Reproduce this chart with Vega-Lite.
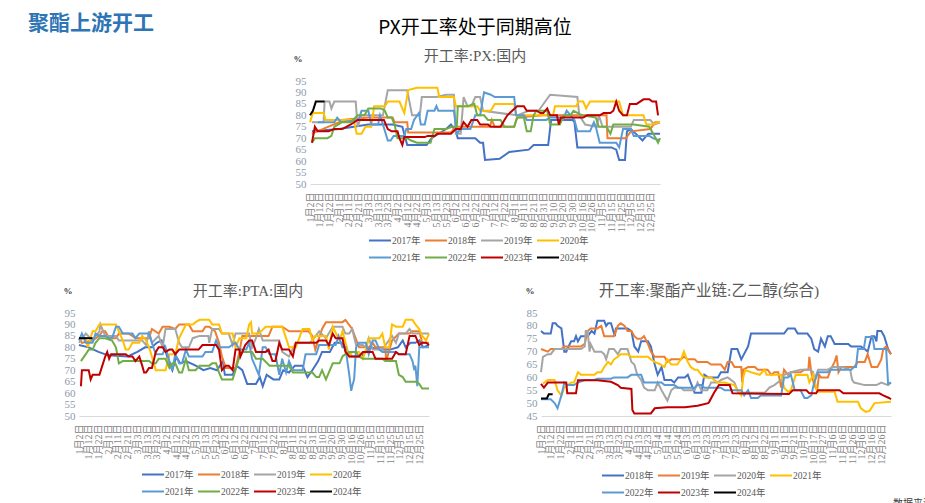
{
"$schema": "https://vega.github.io/schema/vega-lite/v6.json",
"padding": {"left": 28, "top": 13, "right": 5, "bottom": 0},
"title": {"text": "聚酯上游开工", "anchor": "start", "font": "Noto Sans CJK SC", "fontSize": 21, "fontWeight": "bold", "color": "#2E75B6", "offset": -15, "dx": -35, "frame": "bounds"},
"resolve": {"scale": {"color": "independent", "x": "independent", "y": "independent"}, "legend": {"color": "independent"}},
"config": {
  "font": "Liberation Serif, Noto Sans CJK SC",
  "view": {"stroke": null},
  "axis": {"grid": false, "ticks": false, "labelFont": "Liberation Serif, Noto Sans CJK SC"},
  "axisY": {"domain": false, "labelColor": "#8E9AAB", "labelFontSize": 11, "labelPadding": 4, "titleAngle": 0, "titleAlign": "left", "titleBaseline": "alphabetic", "titleFontSize": 9, "titleFontWeight": "bold", "titleColor": "#404040", "titleX": -17, "titleY": -20},
  "axisX": {"domainColor": "#D9D9D9", "labelAngle": -90, "labelColor": "#7F7F7F", "labelFontSize": 10, "labelPadding": 8, "labelOverlap": false, "labelBound": false},
  "legend": {"symbolType": "M-3,0H1", "symbolStrokeWidth": 2.5, "symbolSize": 121, "labelFontSize": 9.5, "labelColor": "#595959", "labelFont": "Liberation Serif, Noto Sans CJK SC", "columnPadding": 0, "rowPadding": 6, "labelOffset": 0, "columns": 4, "direction": "horizontal", "orient": "none", "title": null},
  "line": {"strokeWidth": 2}
},
"datasets": {
"px": [
{"s":"2017年","i":2,"v":73},{"s":"2017年","i":30,"v":74},{"s":"2017年","i":60,"v":76},{"s":"2017年","i":85,"v":76},{"s":"2017年","i":95,"v":75},{"s":"2017年","i":100,"v":67},{"s":"2017年","i":120,"v":67},{"s":"2017年","i":125,"v":70},{"s":"2017年","i":140,"v":74},{"s":"2017年","i":145,"v":76},{"s":"2017年","i":150,"v":73},{"s":"2017年","i":152,"v":70},{"s":"2017年","i":170,"v":70},{"s":"2017年","i":175,"v":68},{"s":"2017年","i":178,"v":68},{"s":"2017年","i":180,"v":60.5},{"s":"2017年","i":195,"v":61},{"s":"2017年","i":205,"v":64},{"s":"2017年","i":225,"v":65},{"s":"2017年","i":230,"v":67},{"s":"2017年","i":245,"v":67},{"s":"2017年","i":248,"v":78},{"s":"2017年","i":270,"v":78},{"s":"2017年","i":272,"v":77},{"s":"2017年","i":275,"v":66},{"s":"2017年","i":310,"v":66},{"s":"2017年","i":315,"v":65},{"s":"2017年","i":318,"v":60.5},{"s":"2017年","i":324,"v":60.5},{"s":"2017年","i":326,"v":73},{"s":"2017年","i":330,"v":74},{"s":"2017年","i":335,"v":72},{"s":"2017年","i":342,"v":69},{"s":"2017年","i":348,"v":72},{"s":"2017年","i":360,"v":72},
{"s":"2018年","i":2,"v":72},{"s":"2018年","i":30,"v":77},{"s":"2018年","i":33,"v":78},{"s":"2018年","i":60,"v":79},{"s":"2018年","i":85,"v":79},{"s":"2018年","i":87,"v":77},{"s":"2018年","i":100,"v":77},{"s":"2018年","i":101,"v":72.5},{"s":"2018年","i":145,"v":72.5},{"s":"2018年","i":150,"v":75},{"s":"2018年","i":185,"v":75},{"s":"2018年","i":187,"v":78},{"s":"2018年","i":190,"v":75},{"s":"2018年","i":210,"v":75},{"s":"2018年","i":213,"v":79},{"s":"2018年","i":240,"v":80},{"s":"2018年","i":305,"v":80},{"s":"2018年","i":306,"v":70},{"s":"2018年","i":325,"v":70},{"s":"2018年","i":330,"v":73},{"s":"2018年","i":350,"v":74},{"s":"2018年","i":355,"v":77},{"s":"2018年","i":360,"v":77},
{"s":"2019年","i":2,"v":77},{"s":"2019年","i":14,"v":77},{"s":"2019年","i":15,"v":86},{"s":"2019年","i":20,"v":86},{"s":"2019年","i":22,"v":83},{"s":"2019年","i":25,"v":86},{"s":"2019年","i":47,"v":86},{"s":"2019年","i":49,"v":75},{"s":"2019年","i":53,"v":80},{"s":"2019年","i":75,"v":80},{"s":"2019年","i":80,"v":91},{"s":"2019年","i":100,"v":91},{"s":"2019年","i":105,"v":80},{"s":"2019年","i":113,"v":80},{"s":"2019年","i":115,"v":88},{"s":"2019年","i":130,"v":88},{"s":"2019年","i":140,"v":89},{"s":"2019年","i":148,"v":89},{"s":"2019年","i":150,"v":72},{"s":"2019年","i":155,"v":72},{"s":"2019年","i":158,"v":88},{"s":"2019年","i":162,"v":84},{"s":"2019年","i":166,"v":84},{"s":"2019年","i":170,"v":88},{"s":"2019年","i":175,"v":88},{"s":"2019年","i":178,"v":82},{"s":"2019年","i":213,"v":80},{"s":"2019年","i":225,"v":82},{"s":"2019年","i":235,"v":82},{"s":"2019年","i":247,"v":89},{"s":"2019年","i":275,"v":88},{"s":"2019年","i":277,"v":80},{"s":"2019年","i":283,"v":76},{"s":"2019年","i":295,"v":75},{"s":"2019年","i":297,"v":80},{"s":"2019年","i":301,"v":75},{"s":"2019年","i":330,"v":75},{"s":"2019年","i":333,"v":78},{"s":"2019年","i":350,"v":78},{"s":"2019年","i":354,"v":76},{"s":"2019年","i":360,"v":77},
{"s":"2020年","i":0,"v":77},{"s":"2020年","i":3,"v":81},{"s":"2020年","i":14,"v":81},{"s":"2020年","i":16,"v":78},{"s":"2020年","i":45,"v":78},{"s":"2020年","i":48,"v":72},{"s":"2020年","i":53,"v":72},{"s":"2020年","i":57,"v":75},{"s":"2020年","i":63,"v":75},{"s":"2020年","i":66,"v":84},{"s":"2020年","i":77,"v":84},{"s":"2020年","i":80,"v":86},{"s":"2020年","i":92,"v":86},{"s":"2020年","i":97,"v":81},{"s":"2020年","i":101,"v":91},{"s":"2020年","i":110,"v":92},{"s":"2020年","i":131,"v":92},{"s":"2020年","i":133,"v":88},{"s":"2020年","i":148,"v":88},{"s":"2020年","i":150,"v":84},{"s":"2020年","i":172,"v":84},{"s":"2020年","i":175,"v":82},{"s":"2020年","i":186,"v":82},{"s":"2020年","i":190,"v":85},{"s":"2020年","i":210,"v":85},{"s":"2020年","i":212,"v":80},{"s":"2020年","i":250,"v":80},{"s":"2020年","i":252,"v":84},{"s":"2020年","i":274,"v":84},{"s":"2020年","i":276,"v":86},{"s":"2020年","i":281,"v":86},{"s":"2020年","i":284,"v":83},{"s":"2020年","i":288,"v":86},{"s":"2020年","i":318,"v":86},{"s":"2020年","i":322,"v":80},{"s":"2020年","i":343,"v":80},{"s":"2020年","i":346,"v":76},{"s":"2020年","i":352,"v":76},{"s":"2020年","i":358,"v":77},{"s":"2020年","i":360,"v":77},
{"s":"2021年","i":8,"v":77},{"s":"2021年","i":25,"v":77},{"s":"2021年","i":28,"v":79},{"s":"2021年","i":32,"v":77},{"s":"2021年","i":50,"v":78},{"s":"2021年","i":53,"v":82},{"s":"2021年","i":60,"v":82},{"s":"2021年","i":63,"v":76},{"s":"2021年","i":70,"v":76},{"s":"2021年","i":72,"v":80},{"s":"2021年","i":75,"v":76},{"s":"2021年","i":80,"v":69},{"s":"2021年","i":83,"v":69},{"s":"2021年","i":86,"v":71},{"s":"2021年","i":97,"v":71},{"s":"2021年","i":99,"v":74},{"s":"2021年","i":104,"v":74},{"s":"2021年","i":107,"v":78},{"s":"2021年","i":112,"v":81},{"s":"2021年","i":114,"v":76},{"s":"2021年","i":118,"v":76},{"s":"2021年","i":121,"v":82},{"s":"2021年","i":128,"v":82},{"s":"2021年","i":130,"v":84},{"s":"2021年","i":132,"v":82},{"s":"2021年","i":148,"v":82},{"s":"2021年","i":151,"v":72},{"s":"2021年","i":155,"v":74},{"s":"2021年","i":165,"v":74},{"s":"2021年","i":170,"v":80},{"s":"2021年","i":175,"v":80},{"s":"2021年","i":179,"v":90},{"s":"2021年","i":186,"v":89},{"s":"2021年","i":190,"v":88},{"s":"2021年","i":210,"v":88},{"s":"2021年","i":212,"v":80},{"s":"2021年","i":220,"v":80},{"s":"2021年","i":223,"v":78},{"s":"2021年","i":243,"v":78},{"s":"2021年","i":247,"v":79},{"s":"2021年","i":257,"v":79},{"s":"2021年","i":260,"v":78},{"s":"2021年","i":264,"v":82},{"s":"2021年","i":272,"v":78},{"s":"2021年","i":275,"v":73},{"s":"2021年","i":288,"v":73},{"s":"2021年","i":292,"v":77},{"s":"2021年","i":294,"v":75},{"s":"2021年","i":298,"v":68},{"s":"2021年","i":315,"v":68},{"s":"2021年","i":318,"v":66},{"s":"2021年","i":322,"v":74},{"s":"2021年","i":330,"v":74},{"s":"2021年","i":333,"v":71},{"s":"2021年","i":349,"v":71},{"s":"2021年","i":353,"v":70},{"s":"2021年","i":360,"v":69},
{"s":"2022年","i":2,"v":68},{"s":"2022年","i":5,"v":70},{"s":"2022年","i":18,"v":70},{"s":"2022年","i":22,"v":71},{"s":"2022年","i":25,"v":75},{"s":"2022年","i":33,"v":77},{"s":"2022年","i":42,"v":77},{"s":"2022年","i":49,"v":80},{"s":"2022年","i":56,"v":80},{"s":"2022年","i":60,"v":83},{"s":"2022年","i":73,"v":83},{"s":"2022年","i":77,"v":82},{"s":"2022年","i":80,"v":79},{"s":"2022年","i":84,"v":79},{"s":"2022年","i":87,"v":76},{"s":"2022年","i":90,"v":70},{"s":"2022年","i":100,"v":70},{"s":"2022年","i":104,"v":69},{"s":"2022年","i":110,"v":68},{"s":"2022年","i":124,"v":68},{"s":"2022年","i":128,"v":74},{"s":"2022年","i":140,"v":74},{"s":"2022年","i":146,"v":75},{"s":"2022年","i":151,"v":75},{"s":"2022年","i":152,"v":84},{"s":"2022年","i":162,"v":84},{"s":"2022年","i":169,"v":85},{"s":"2022年","i":172,"v":80},{"s":"2022年","i":179,"v":80},{"s":"2022年","i":183,"v":78},{"s":"2022年","i":196,"v":78},{"s":"2022年","i":200,"v":75},{"s":"2022年","i":210,"v":75},{"s":"2022年","i":213,"v":79},{"s":"2022年","i":220,"v":79},{"s":"2022年","i":223,"v":73},{"s":"2022年","i":227,"v":73},{"s":"2022年","i":230,"v":80},{"s":"2022年","i":233,"v":82},{"s":"2022年","i":244,"v":82},{"s":"2022年","i":247,"v":76},{"s":"2022年","i":257,"v":76},{"s":"2022年","i":261,"v":80},{"s":"2022年","i":268,"v":80},{"s":"2022年","i":271,"v":82},{"s":"2022年","i":280,"v":80},{"s":"2022年","i":294,"v":79},{"s":"2022年","i":297,"v":75},{"s":"2022年","i":305,"v":75},{"s":"2022年","i":309,"v":72},{"s":"2022年","i":312,"v":76},{"s":"2022年","i":333,"v":76},{"s":"2022年","i":349,"v":75},{"s":"2022年","i":353,"v":72},{"s":"2022年","i":358,"v":68},{"s":"2022年","i":360,"v":70},
{"s":"2023年","i":2,"v":68},{"s":"2023年","i":5,"v":75},{"s":"2023年","i":8,"v":73},{"s":"2023年","i":19,"v":73},{"s":"2023年","i":25,"v":74},{"s":"2023年","i":33,"v":74},{"s":"2023年","i":42,"v":76},{"s":"2023年","i":49,"v":78},{"s":"2023年","i":76,"v":78},{"s":"2023年","i":80,"v":74},{"s":"2023年","i":84,"v":73},{"s":"2023年","i":90,"v":73},{"s":"2023年","i":92,"v":70},{"s":"2023年","i":95,"v":67},{"s":"2023年","i":97,"v":70.5},{"s":"2023年","i":118,"v":70.5},{"s":"2023年","i":121,"v":71},{"s":"2023年","i":128,"v":71},{"s":"2023年","i":131,"v":72},{"s":"2023年","i":145,"v":72},{"s":"2023年","i":150,"v":74},{"s":"2023年","i":155,"v":74},{"s":"2023年","i":158,"v":77},{"s":"2023年","i":162,"v":75},{"s":"2023年","i":166,"v":78},{"s":"2023年","i":172,"v":78},{"s":"2023年","i":175,"v":76},{"s":"2023年","i":183,"v":76},{"s":"2023年","i":186,"v":75},{"s":"2023年","i":196,"v":75},{"s":"2023年","i":200,"v":78},{"s":"2023年","i":203,"v":80},{"s":"2023年","i":213,"v":84},{"s":"2023年","i":220,"v":84},{"s":"2023年","i":223,"v":82},{"s":"2023年","i":233,"v":82},{"s":"2023年","i":237,"v":81},{"s":"2023年","i":240,"v":81},{"s":"2023年","i":244,"v":83},{"s":"2023年","i":247,"v":80},{"s":"2023年","i":254,"v":80},{"s":"2023年","i":256,"v":76},{"s":"2023年","i":258,"v":79},{"s":"2023年","i":281,"v":79},{"s":"2023年","i":285,"v":80},{"s":"2023年","i":298,"v":80},{"s":"2023年","i":302,"v":81},{"s":"2023年","i":309,"v":81},{"s":"2023年","i":312,"v":82},{"s":"2023年","i":315,"v":86},{"s":"2023年","i":318,"v":82},{"s":"2023年","i":322,"v":80},{"s":"2023年","i":326,"v":80},{"s":"2023年","i":329,"v":85},{"s":"2023年","i":336,"v":85},{"s":"2023年","i":343,"v":87},{"s":"2023年","i":349,"v":87},{"s":"2023年","i":352,"v":86},{"s":"2023年","i":356,"v":86},{"s":"2023年","i":358,"v":80},
{"s":"2024年","i":0,"v":80},{"s":"2024年","i":3,"v":82},{"s":"2024年","i":6,"v":86},{"s":"2024年","i":15,"v":86}
],
"pta": [
{"s":"2017年","i":0,"v":81},{"s":"2017年","i":10,"v":80},{"s":"2017年","i":20,"v":78},{"s":"2017年","i":30,"v":76.5},{"s":"2017年","i":50,"v":76},{"s":"2017年","i":60,"v":78},{"s":"2017年","i":68,"v":80},{"s":"2017年","i":75,"v":80},{"s":"2017年","i":80,"v":82},{"s":"2017年","i":85,"v":83},{"s":"2017年","i":88,"v":80},{"s":"2017年","i":92,"v":74},{"s":"2017年","i":96,"v":70},{"s":"2017年","i":100,"v":76},{"s":"2017年","i":104,"v":73},{"s":"2017年","i":110,"v":74},{"s":"2017年","i":120,"v":72},{"s":"2017年","i":128,"v":70},{"s":"2017年","i":135,"v":71},{"s":"2017年","i":142,"v":70},{"s":"2017年","i":148,"v":74},{"s":"2017年","i":150,"v":68},{"s":"2017年","i":158,"v":68},{"s":"2017年","i":162,"v":72},{"s":"2017年","i":168,"v":70},{"s":"2017年","i":173,"v":64},{"s":"2017年","i":182,"v":64},{"s":"2017年","i":186,"v":67},{"s":"2017年","i":189,"v":63},{"s":"2017年","i":193,"v":68},{"s":"2017年","i":200,"v":66},{"s":"2017年","i":206,"v":66},{"s":"2017年","i":210,"v":70},{"s":"2017年","i":216,"v":69},{"s":"2017年","i":222,"v":72},{"s":"2017年","i":230,"v":72},{"s":"2017年","i":235,"v":67},{"s":"2017年","i":240,"v":70},{"s":"2017年","i":246,"v":74},{"s":"2017年","i":250,"v":78},{"s":"2017年","i":258,"v":78},{"s":"2017年","i":263,"v":82},{"s":"2017年","i":270,"v":82},{"s":"2017年","i":275,"v":79},{"s":"2017年","i":280,"v":76},{"s":"2017年","i":290,"v":76},{"s":"2017年","i":300,"v":80},{"s":"2017年","i":310,"v":79},{"s":"2017年","i":320,"v":79},{"s":"2017年","i":328,"v":80},{"s":"2017年","i":333,"v":83},{"s":"2017年","i":336,"v":80},{"s":"2017年","i":341,"v":82},{"s":"2017年","i":346,"v":82},{"s":"2017年","i":350,"v":83},{"s":"2017年","i":354,"v":80},{"s":"2017年","i":360,"v":81},
{"s":"2018年","i":0,"v":84},{"s":"2018年","i":3,"v":82},{"s":"2018年","i":14,"v":83},{"s":"2018年","i":21,"v":85},{"s":"2018年","i":24,"v":87},{"s":"2018年","i":27,"v":87},{"s":"2018年","i":31,"v":84},{"s":"2018年","i":38,"v":84},{"s":"2018年","i":41,"v":86},{"s":"2018年","i":51,"v":86},{"s":"2018年","i":55,"v":85},{"s":"2018年","i":58,"v":84},{"s":"2018年","i":72,"v":84},{"s":"2018年","i":75,"v":88},{"s":"2018年","i":82,"v":86},{"s":"2018年","i":86,"v":89},{"s":"2018年","i":93,"v":89},{"s":"2018年","i":99,"v":88},{"s":"2018年","i":103,"v":90},{"s":"2018年","i":113,"v":90},{"s":"2018年","i":117,"v":87},{"s":"2018年","i":127,"v":87},{"s":"2018年","i":130,"v":89},{"s":"2018年","i":134,"v":89},{"s":"2018年","i":140,"v":87},{"s":"2018年","i":144,"v":82},{"s":"2018年","i":147,"v":76},{"s":"2018年","i":151,"v":71},{"s":"2018年","i":161,"v":71},{"s":"2018年","i":165,"v":78},{"s":"2018年","i":168,"v":85},{"s":"2018年","i":195,"v":85},{"s":"2018年","i":199,"v":89},{"s":"2018年","i":209,"v":89},{"s":"2018年","i":216,"v":87},{"s":"2018年","i":236,"v":87},{"s":"2018年","i":240,"v":85},{"s":"2018年","i":243,"v":79},{"s":"2018年","i":250,"v":88},{"s":"2018年","i":254,"v":91},{"s":"2018年","i":271,"v":91},{"s":"2018年","i":274,"v":92},{"s":"2018年","i":281,"v":88},{"s":"2018年","i":288,"v":80},{"s":"2018年","i":298,"v":80},{"s":"2018年","i":302,"v":82},{"s":"2018年","i":305,"v":80},{"s":"2018年","i":315,"v":80},{"s":"2018年","i":316,"v":74},{"s":"2018年","i":322,"v":83},{"s":"2018年","i":329,"v":86},{"s":"2018年","i":340,"v":86},{"s":"2018年","i":343,"v":87},{"s":"2018年","i":350,"v":87},{"s":"2018年","i":353,"v":82},{"s":"2018年","i":360,"v":82},
{"s":"2019年","i":0,"v":82},{"s":"2019年","i":7,"v":86},{"s":"2019年","i":14,"v":83},{"s":"2019年","i":21,"v":87},{"s":"2019年","i":22,"v":90},{"s":"2019年","i":27,"v":85},{"s":"2019年","i":38,"v":85},{"s":"2019年","i":41,"v":83},{"s":"2019年","i":65,"v":83},{"s":"2019年","i":69,"v":81},{"s":"2019年","i":72,"v":87},{"s":"2019年","i":75,"v":82},{"s":"2019年","i":82,"v":85},{"s":"2019年","i":86,"v":80},{"s":"2019年","i":89,"v":88},{"s":"2019年","i":99,"v":88},{"s":"2019年","i":103,"v":82},{"s":"2019年","i":106,"v":80},{"s":"2019年","i":113,"v":80},{"s":"2019年","i":117,"v":84},{"s":"2019年","i":124,"v":85},{"s":"2019年","i":133,"v":85},{"s":"2019年","i":134,"v":82},{"s":"2019年","i":137,"v":88},{"s":"2019年","i":144,"v":88},{"s":"2019年","i":147,"v":86},{"s":"2019年","i":154,"v":86},{"s":"2019年","i":158,"v":81},{"s":"2019年","i":161,"v":86},{"s":"2019年","i":175,"v":86},{"s":"2019年","i":178,"v":80},{"s":"2019年","i":182,"v":84},{"s":"2019年","i":185,"v":88},{"s":"2019年","i":189,"v":83},{"s":"2019年","i":206,"v":83},{"s":"2019年","i":209,"v":78},{"s":"2019年","i":216,"v":76},{"s":"2019年","i":223,"v":82},{"s":"2019年","i":237,"v":82},{"s":"2019年","i":240,"v":83},{"s":"2019年","i":247,"v":87},{"s":"2019年","i":254,"v":84},{"s":"2019年","i":261,"v":89},{"s":"2019年","i":271,"v":89},{"s":"2019年","i":274,"v":86},{"s":"2019年","i":278,"v":86},{"s":"2019年","i":281,"v":88},{"s":"2019年","i":285,"v":81},{"s":"2019年","i":292,"v":81},{"s":"2019年","i":295,"v":80},{"s":"2019年","i":298,"v":84},{"s":"2019年","i":302,"v":79},{"s":"2019年","i":312,"v":79},{"s":"2019年","i":322,"v":85},{"s":"2019年","i":326,"v":82},{"s":"2019年","i":329,"v":86},{"s":"2019年","i":336,"v":86},{"s":"2019年","i":340,"v":88},{"s":"2019年","i":343,"v":86},{"s":"2019年","i":360,"v":86},
{"s":"2020年","i":0,"v":84},{"s":"2020年","i":7,"v":84},{"s":"2020年","i":9,"v":80},{"s":"2020年","i":14,"v":87},{"s":"2020年","i":17,"v":87},{"s":"2020年","i":21,"v":90},{"s":"2020年","i":38,"v":90},{"s":"2020年","i":41,"v":87},{"s":"2020年","i":45,"v":83},{"s":"2020年","i":48,"v":79},{"s":"2020年","i":51,"v":79},{"s":"2020年","i":55,"v":82},{"s":"2020年","i":62,"v":82},{"s":"2020年","i":65,"v":85},{"s":"2020年","i":69,"v":83},{"s":"2020年","i":72,"v":80},{"s":"2020年","i":75,"v":76},{"s":"2020年","i":79,"v":70},{"s":"2020年","i":89,"v":70},{"s":"2020年","i":93,"v":77},{"s":"2020年","i":99,"v":77},{"s":"2020年","i":103,"v":84},{"s":"2020年","i":110,"v":90},{"s":"2020年","i":117,"v":90},{"s":"2020年","i":120,"v":91},{"s":"2020年","i":124,"v":92},{"s":"2020年","i":134,"v":92},{"s":"2020年","i":137,"v":90},{"s":"2020年","i":144,"v":90},{"s":"2020年","i":147,"v":86},{"s":"2020年","i":158,"v":86},{"s":"2020年","i":161,"v":80},{"s":"2020年","i":165,"v":84},{"s":"2020年","i":172,"v":84},{"s":"2020年","i":175,"v":90},{"s":"2020年","i":177,"v":91},{"s":"2020年","i":178,"v":86},{"s":"2020年","i":185,"v":86},{"s":"2020年","i":192,"v":89},{"s":"2020年","i":209,"v":89},{"s":"2020年","i":213,"v":84},{"s":"2020年","i":216,"v":80},{"s":"2020年","i":223,"v":80},{"s":"2020年","i":230,"v":88},{"s":"2020年","i":237,"v":88},{"s":"2020年","i":240,"v":83},{"s":"2020年","i":243,"v":85},{"s":"2020年","i":254,"v":85},{"s":"2020年","i":257,"v":79},{"s":"2020年","i":261,"v":89},{"s":"2020年","i":268,"v":83},{"s":"2020年","i":271,"v":87},{"s":"2020年","i":278,"v":76},{"s":"2020年","i":281,"v":78},{"s":"2020年","i":288,"v":78},{"s":"2020年","i":292,"v":75},{"s":"2020年","i":295,"v":79},{"s":"2020年","i":298,"v":84},{"s":"2020年","i":309,"v":84},{"s":"2020年","i":312,"v":86},{"s":"2020年","i":315,"v":80},{"s":"2020年","i":319,"v":80},{"s":"2020年","i":322,"v":90},{"s":"2020年","i":326,"v":89},{"s":"2020年","i":333,"v":89},{"s":"2020年","i":336,"v":92},{"s":"2020年","i":343,"v":92},{"s":"2020年","i":346,"v":90},{"s":"2020年","i":350,"v":88},{"s":"2020年","i":353,"v":85},{"s":"2020年","i":357,"v":83},{"s":"2020年","i":360,"v":86},
{"s":"2021年","i":0,"v":83},{"s":"2021年","i":3,"v":86},{"s":"2021年","i":7,"v":82},{"s":"2021年","i":14,"v":82},{"s":"2021年","i":17,"v":86},{"s":"2021年","i":21,"v":85},{"s":"2021年","i":27,"v":85},{"s":"2021年","i":31,"v":84},{"s":"2021年","i":34,"v":84},{"s":"2021年","i":38,"v":89},{"s":"2021年","i":41,"v":89},{"s":"2021年","i":45,"v":86},{"s":"2021年","i":55,"v":86},{"s":"2021年","i":58,"v":84},{"s":"2021年","i":62,"v":86},{"s":"2021年","i":72,"v":86},{"s":"2021年","i":75,"v":82},{"s":"2021年","i":79,"v":77},{"s":"2021年","i":86,"v":77},{"s":"2021年","i":89,"v":80},{"s":"2021年","i":93,"v":74},{"s":"2021年","i":96,"v":70},{"s":"2021年","i":99,"v":77},{"s":"2021年","i":103,"v":73},{"s":"2021年","i":106,"v":73},{"s":"2021年","i":110,"v":79},{"s":"2021年","i":113,"v":76},{"s":"2021年","i":127,"v":76},{"s":"2021年","i":130,"v":78},{"s":"2021年","i":137,"v":78},{"s":"2021年","i":141,"v":83},{"s":"2021年","i":144,"v":80},{"s":"2021年","i":154,"v":80},{"s":"2021年","i":161,"v":82},{"s":"2021年","i":165,"v":79},{"s":"2021年","i":172,"v":79},{"s":"2021年","i":175,"v":82},{"s":"2021年","i":178,"v":75},{"s":"2021年","i":185,"v":68},{"s":"2021年","i":189,"v":80},{"s":"2021年","i":192,"v":80},{"s":"2021年","i":196,"v":77},{"s":"2021年","i":202,"v":77},{"s":"2021年","i":206,"v":68},{"s":"2021年","i":209,"v":75},{"s":"2021年","i":213,"v":69},{"s":"2021年","i":216,"v":74},{"s":"2021年","i":220,"v":70},{"s":"2021年","i":230,"v":70},{"s":"2021年","i":233,"v":77},{"s":"2021年","i":244,"v":77},{"s":"2021年","i":247,"v":81},{"s":"2021年","i":264,"v":81},{"s":"2021年","i":267,"v":85},{"s":"2021年","i":271,"v":80},{"s":"2021年","i":274,"v":80},{"s":"2021年","i":278,"v":68},{"s":"2021年","i":280,"v":61},{"s":"2021年","i":281,"v":63},{"s":"2021年","i":283,"v":66},{"s":"2021年","i":285,"v":80},{"s":"2021年","i":288,"v":82},{"s":"2021年","i":295,"v":82},{"s":"2021年","i":298,"v":77},{"s":"2021年","i":302,"v":83},{"s":"2021年","i":305,"v":83},{"s":"2021年","i":309,"v":79},{"s":"2021年","i":312,"v":78},{"s":"2021年","i":326,"v":78},{"s":"2021年","i":329,"v":77},{"s":"2021年","i":340,"v":77},{"s":"2021年","i":343,"v":74},{"s":"2021年","i":345,"v":70},{"s":"2021年","i":346,"v":72},{"s":"2021年","i":348,"v":63},{"s":"2021年","i":350,"v":80},{"s":"2021年","i":360,"v":80},
{"s":"2022年","i":2,"v":74},{"s":"2022年","i":7,"v":77},{"s":"2022年","i":10,"v":79},{"s":"2022年","i":14,"v":79},{"s":"2022年","i":17,"v":82},{"s":"2022年","i":21,"v":84},{"s":"2022年","i":27,"v":84},{"s":"2022年","i":34,"v":83},{"s":"2022年","i":38,"v":80},{"s":"2022年","i":41,"v":73},{"s":"2022年","i":45,"v":74},{"s":"2022年","i":72,"v":74},{"s":"2022年","i":75,"v":73},{"s":"2022年","i":79,"v":73},{"s":"2022年","i":82,"v":75},{"s":"2022年","i":89,"v":75},{"s":"2022年","i":93,"v":71},{"s":"2022年","i":96,"v":73},{"s":"2022年","i":99,"v":73},{"s":"2022年","i":103,"v":69},{"s":"2022年","i":106,"v":69},{"s":"2022年","i":110,"v":75},{"s":"2022年","i":113,"v":70},{"s":"2022年","i":120,"v":70},{"s":"2022年","i":124,"v":72},{"s":"2022年","i":134,"v":72},{"s":"2022年","i":137,"v":73},{"s":"2022年","i":141,"v":73},{"s":"2022年","i":144,"v":69},{"s":"2022年","i":147,"v":66},{"s":"2022年","i":158,"v":66},{"s":"2022年","i":161,"v":70},{"s":"2022年","i":165,"v":76},{"s":"2022年","i":168,"v":78},{"s":"2022年","i":178,"v":78},{"s":"2022年","i":182,"v":75},{"s":"2022年","i":189,"v":75},{"s":"2022年","i":196,"v":72},{"s":"2022年","i":216,"v":72},{"s":"2022年","i":220,"v":69},{"s":"2022年","i":240,"v":69},{"s":"2022年","i":244,"v":67},{"s":"2022年","i":247,"v":67},{"s":"2022年","i":250,"v":70},{"s":"2022年","i":254,"v":66},{"s":"2022年","i":261,"v":73},{"s":"2022年","i":268,"v":73},{"s":"2022年","i":271,"v":76},{"s":"2022年","i":274,"v":77},{"s":"2022年","i":278,"v":78},{"s":"2022年","i":285,"v":78},{"s":"2022年","i":288,"v":76},{"s":"2022年","i":292,"v":75},{"s":"2022年","i":312,"v":75},{"s":"2022年","i":315,"v":74},{"s":"2022年","i":326,"v":74},{"s":"2022年","i":329,"v":68},{"s":"2022年","i":333,"v":67},{"s":"2022年","i":336,"v":65},{"s":"2022年","i":347,"v":65},{"s":"2022年","i":350,"v":64},{"s":"2022年","i":353,"v":62},{"s":"2022年","i":360,"v":62},
{"s":"2023年","i":2,"v":63},{"s":"2023年","i":3,"v":70},{"s":"2023年","i":10,"v":70},{"s":"2023年","i":12,"v":66},{"s":"2023年","i":14,"v":68},{"s":"2023年","i":21,"v":68},{"s":"2023年","i":24,"v":72},{"s":"2023年","i":27,"v":76},{"s":"2023年","i":29,"v":78},{"s":"2023年","i":31,"v":75},{"s":"2023年","i":33,"v":77},{"s":"2023年","i":48,"v":77},{"s":"2023年","i":51,"v":76},{"s":"2023年","i":55,"v":76},{"s":"2023年","i":58,"v":74},{"s":"2023年","i":62,"v":76},{"s":"2023年","i":65,"v":72},{"s":"2023年","i":67,"v":69},{"s":"2023年","i":69,"v":69},{"s":"2023年","i":72,"v":71},{"s":"2023年","i":75,"v":71},{"s":"2023年","i":79,"v":78},{"s":"2023年","i":82,"v":80},{"s":"2023年","i":86,"v":80},{"s":"2023年","i":89,"v":78},{"s":"2023年","i":93,"v":79},{"s":"2023年","i":96,"v":79},{"s":"2023年","i":99,"v":77},{"s":"2023年","i":103,"v":79},{"s":"2023年","i":123,"v":79},{"s":"2023年","i":127,"v":81},{"s":"2023年","i":141,"v":81},{"s":"2023年","i":144,"v":79},{"s":"2023年","i":147,"v":70},{"s":"2023年","i":151,"v":72},{"s":"2023年","i":154,"v":72},{"s":"2023年","i":158,"v":70},{"s":"2023年","i":161,"v":79},{"s":"2023年","i":165,"v":79},{"s":"2023年","i":166,"v":76},{"s":"2023年","i":171,"v":81},{"s":"2023年","i":175,"v":83},{"s":"2023年","i":178,"v":83},{"s":"2023年","i":182,"v":78},{"s":"2023年","i":192,"v":78},{"s":"2023年","i":195,"v":79},{"s":"2023年","i":199,"v":74},{"s":"2023年","i":202,"v":74},{"s":"2023年","i":206,"v":82},{"s":"2023年","i":209,"v":79},{"s":"2023年","i":216,"v":79},{"s":"2023年","i":220,"v":76},{"s":"2023年","i":223,"v":82},{"s":"2023年","i":244,"v":82},{"s":"2023年","i":247,"v":83},{"s":"2023年","i":254,"v":83},{"s":"2023年","i":257,"v":81},{"s":"2023年","i":261,"v":86},{"s":"2023年","i":264,"v":84},{"s":"2023年","i":271,"v":84},{"s":"2023年","i":274,"v":78},{"s":"2023年","i":278,"v":76},{"s":"2023年","i":288,"v":76},{"s":"2023年","i":292,"v":78},{"s":"2023年","i":302,"v":78},{"s":"2023年","i":305,"v":75},{"s":"2023年","i":322,"v":75},{"s":"2023年","i":326,"v":78},{"s":"2023年","i":329,"v":77},{"s":"2023年","i":336,"v":77},{"s":"2023年","i":340,"v":85},{"s":"2023年","i":346,"v":85},{"s":"2023年","i":350,"v":81},{"s":"2023年","i":353,"v":82},{"s":"2023年","i":357,"v":82},{"s":"2023年","i":360,"v":81},
{"s":"2024年","i":0,"v":84},{"s":"2024年","i":14,"v":84}
],
"meg": [
{"s":"2018年","i":0,"v":78},{"s":"2018年","i":3,"v":77},{"s":"2018年","i":10,"v":77},{"s":"2018年","i":12,"v":81},{"s":"2018年","i":15,"v":81},{"s":"2018年","i":17,"v":80},{"s":"2018年","i":21,"v":79},{"s":"2018年","i":24,"v":70},{"s":"2018年","i":26,"v":70},{"s":"2018年","i":27,"v":71},{"s":"2018年","i":31,"v":74},{"s":"2018年","i":34,"v":74},{"s":"2018年","i":36,"v":76},{"s":"2018年","i":38,"v":74},{"s":"2018年","i":41,"v":76},{"s":"2018年","i":48,"v":76},{"s":"2018年","i":50,"v":77},{"s":"2018年","i":52,"v":78},{"s":"2018年","i":55,"v":77},{"s":"2018年","i":58,"v":82},{"s":"2018年","i":65,"v":82},{"s":"2018年","i":67,"v":80},{"s":"2018年","i":69,"v":81},{"s":"2018年","i":72,"v":81},{"s":"2018年","i":76,"v":76},{"s":"2018年","i":77,"v":79},{"s":"2018年","i":89,"v":79},{"s":"2018年","i":93,"v":78},{"s":"2018年","i":96,"v":72},{"s":"2018年","i":100,"v":70},{"s":"2018年","i":103,"v":74},{"s":"2018年","i":110,"v":74},{"s":"2018年","i":113,"v":72},{"s":"2018年","i":117,"v":65},{"s":"2018年","i":120,"v":61},{"s":"2018年","i":124,"v":64},{"s":"2018年","i":127,"v":59},{"s":"2018年","i":134,"v":59},{"s":"2018年","i":137,"v":58},{"s":"2018年","i":141,"v":60},{"s":"2018年","i":148,"v":60},{"s":"2018年","i":151,"v":61},{"s":"2018年","i":154,"v":58},{"s":"2018年","i":158,"v":54},{"s":"2018年","i":165,"v":54},{"s":"2018年","i":168,"v":61},{"s":"2018年","i":172,"v":60},{"s":"2018年","i":182,"v":60},{"s":"2018年","i":185,"v":62},{"s":"2018年","i":192,"v":62},{"s":"2018年","i":196,"v":71},{"s":"2018年","i":202,"v":71},{"s":"2018年","i":206,"v":67},{"s":"2018年","i":213,"v":72},{"s":"2018年","i":216,"v":77},{"s":"2018年","i":250,"v":77},{"s":"2018年","i":254,"v":79},{"s":"2018年","i":261,"v":79},{"s":"2018年","i":264,"v":77},{"s":"2018年","i":274,"v":77},{"s":"2018年","i":278,"v":75},{"s":"2018年","i":281,"v":71},{"s":"2018年","i":285,"v":70},{"s":"2018年","i":288,"v":75},{"s":"2018年","i":292,"v":72},{"s":"2018年","i":295,"v":76},{"s":"2018年","i":298,"v":76},{"s":"2018年","i":302,"v":73},{"s":"2018年","i":316,"v":73},{"s":"2018年","i":319,"v":72},{"s":"2018年","i":329,"v":72},{"s":"2018年","i":333,"v":71},{"s":"2018年","i":336,"v":70},{"s":"2018年","i":340,"v":76},{"s":"2018年","i":343,"v":76},{"s":"2018年","i":345,"v":74},{"s":"2018年","i":346,"v":78},{"s":"2018年","i":350,"v":78},{"s":"2018年","i":353,"v":76},{"s":"2018年","i":357,"v":71},{"s":"2018年","i":360,"v":69},
{"s":"2019年","i":0,"v":71},{"s":"2019年","i":7,"v":70},{"s":"2019年","i":10,"v":71},{"s":"2019年","i":21,"v":71},{"s":"2019年","i":24,"v":72},{"s":"2019年","i":41,"v":72},{"s":"2019年","i":45,"v":73},{"s":"2019年","i":48,"v":78},{"s":"2019年","i":51,"v":79},{"s":"2019年","i":58,"v":79},{"s":"2019年","i":62,"v":80},{"s":"2019年","i":65,"v":76},{"s":"2019年","i":75,"v":76},{"s":"2019年","i":79,"v":80},{"s":"2019年","i":82,"v":81},{"s":"2019年","i":86,"v":80},{"s":"2019年","i":89,"v":78},{"s":"2019年","i":93,"v":78},{"s":"2019年","i":96,"v":76},{"s":"2019年","i":99,"v":75},{"s":"2019年","i":103,"v":75},{"s":"2019年","i":106,"v":76},{"s":"2019年","i":110,"v":73},{"s":"2019年","i":113,"v":70},{"s":"2019年","i":117,"v":68},{"s":"2019年","i":127,"v":68},{"s":"2019年","i":130,"v":66},{"s":"2019年","i":134,"v":67},{"s":"2019年","i":144,"v":67},{"s":"2019年","i":147,"v":68},{"s":"2019年","i":151,"v":67},{"s":"2019年","i":158,"v":67},{"s":"2019年","i":161,"v":66},{"s":"2019年","i":171,"v":66},{"s":"2019年","i":175,"v":65},{"s":"2019年","i":185,"v":65},{"s":"2019年","i":189,"v":63},{"s":"2019年","i":192,"v":66},{"s":"2019年","i":196,"v":66},{"s":"2019年","i":199,"v":64},{"s":"2019年","i":206,"v":64},{"s":"2019年","i":207,"v":58},{"s":"2019年","i":208,"v":63},{"s":"2019年","i":213,"v":64},{"s":"2019年","i":220,"v":64},{"s":"2019年","i":223,"v":63},{"s":"2019年","i":233,"v":63},{"s":"2019年","i":237,"v":61},{"s":"2019年","i":240,"v":62},{"s":"2019年","i":244,"v":62},{"s":"2019年","i":247,"v":56},{"s":"2019年","i":250,"v":63},{"s":"2019年","i":254,"v":61},{"s":"2019年","i":257,"v":62},{"s":"2019年","i":267,"v":62},{"s":"2019年","i":271,"v":63},{"s":"2019年","i":275,"v":63},{"s":"2019年","i":276,"v":68},{"s":"2019年","i":278,"v":62},{"s":"2019年","i":281,"v":57},{"s":"2019年","i":284,"v":55},{"s":"2019年","i":286,"v":61},{"s":"2019年","i":288,"v":60},{"s":"2019年","i":295,"v":60},{"s":"2019年","i":298,"v":63},{"s":"2019年","i":302,"v":66},{"s":"2019年","i":304,"v":68.5},{"s":"2019年","i":306,"v":62},{"s":"2019年","i":309,"v":64},{"s":"2019年","i":322,"v":64},{"s":"2019年","i":326,"v":66},{"s":"2019年","i":333,"v":66},{"s":"2019年","i":336,"v":69},{"s":"2019年","i":340,"v":64},{"s":"2019年","i":346,"v":64},{"s":"2019年","i":350,"v":67},{"s":"2019年","i":352,"v":71},{"s":"2019年","i":355,"v":72},{"s":"2019年","i":358,"v":70},{"s":"2019年","i":360,"v":69},
{"s":"2020年","i":0,"v":62},{"s":"2020年","i":2,"v":68},{"s":"2020年","i":7,"v":69},{"s":"2020年","i":10,"v":69},{"s":"2020年","i":14,"v":71},{"s":"2020年","i":41,"v":71},{"s":"2020年","i":45,"v":72},{"s":"2020年","i":46,"v":78},{"s":"2020年","i":48,"v":78},{"s":"2020年","i":50,"v":70},{"s":"2020年","i":51,"v":73},{"s":"2020年","i":55,"v":70},{"s":"2020年","i":62,"v":70},{"s":"2020年","i":65,"v":69},{"s":"2020年","i":67,"v":67},{"s":"2020年","i":70,"v":71},{"s":"2020年","i":75,"v":71},{"s":"2020年","i":79,"v":69},{"s":"2020年","i":82,"v":71},{"s":"2020年","i":89,"v":71},{"s":"2020年","i":93,"v":66},{"s":"2020年","i":96,"v":65},{"s":"2020年","i":99,"v":61},{"s":"2020年","i":103,"v":59},{"s":"2020年","i":106,"v":56},{"s":"2020年","i":110,"v":55},{"s":"2020年","i":117,"v":55},{"s":"2020年","i":120,"v":58},{"s":"2020年","i":124,"v":55},{"s":"2020年","i":130,"v":51},{"s":"2020年","i":134,"v":55},{"s":"2020年","i":137,"v":56},{"s":"2020年","i":144,"v":56},{"s":"2020年","i":147,"v":55},{"s":"2020年","i":158,"v":55},{"s":"2020年","i":161,"v":58},{"s":"2020年","i":165,"v":55},{"s":"2020年","i":171,"v":55},{"s":"2020年","i":175,"v":58},{"s":"2020年","i":182,"v":58},{"s":"2020年","i":185,"v":59},{"s":"2020年","i":192,"v":60},{"s":"2020年","i":199,"v":58},{"s":"2020年","i":203,"v":54},{"s":"2020年","i":230,"v":54},{"s":"2020年","i":235,"v":56},{"s":"2020年","i":240,"v":57},{"s":"2020年","i":247,"v":59},{"s":"2020年","i":250,"v":61},{"s":"2020年","i":257,"v":62},{"s":"2020年","i":267,"v":63},{"s":"2020年","i":277,"v":63},{"s":"2020年","i":280,"v":62},{"s":"2020年","i":281,"v":59},{"s":"2020年","i":285,"v":63},{"s":"2020年","i":295,"v":63},{"s":"2020年","i":300,"v":64},{"s":"2020年","i":310,"v":64},{"s":"2020年","i":318,"v":63},{"s":"2020年","i":320,"v":59},{"s":"2020年","i":322,"v":58},{"s":"2020年","i":333,"v":57},{"s":"2020年","i":345,"v":57},{"s":"2020年","i":350,"v":58},{"s":"2020年","i":357,"v":57},{"s":"2020年","i":360,"v":58},
{"s":"2021年","i":2,"v":57.6},{"s":"2021年","i":7,"v":59},{"s":"2021年","i":14,"v":59},{"s":"2021年","i":17,"v":55},{"s":"2021年","i":21,"v":53},{"s":"2021年","i":24,"v":56},{"s":"2021年","i":31,"v":58},{"s":"2021年","i":34,"v":58},{"s":"2021年","i":38,"v":62},{"s":"2021年","i":41,"v":61},{"s":"2021年","i":55,"v":61},{"s":"2021年","i":58,"v":62},{"s":"2021年","i":62,"v":62},{"s":"2021年","i":65,"v":64},{"s":"2021年","i":69,"v":66},{"s":"2021年","i":72,"v":65},{"s":"2021年","i":75,"v":67},{"s":"2021年","i":79,"v":68},{"s":"2021年","i":82,"v":69},{"s":"2021年","i":89,"v":69},{"s":"2021年","i":93,"v":68},{"s":"2021年","i":110,"v":68},{"s":"2021年","i":113,"v":67},{"s":"2021年","i":117,"v":66},{"s":"2021年","i":123,"v":65},{"s":"2021年","i":127,"v":64},{"s":"2021年","i":130,"v":67},{"s":"2021年","i":134,"v":65},{"s":"2021年","i":140,"v":65},{"s":"2021年","i":144,"v":67},{"s":"2021年","i":147,"v":70},{"s":"2021年","i":151,"v":66},{"s":"2021年","i":154,"v":64},{"s":"2021年","i":158,"v":63},{"s":"2021年","i":161,"v":63},{"s":"2021年","i":165,"v":61},{"s":"2021年","i":168,"v":60},{"s":"2021年","i":175,"v":60},{"s":"2021年","i":178,"v":59},{"s":"2021年","i":182,"v":58},{"s":"2021年","i":189,"v":58},{"s":"2021年","i":192,"v":57.6},{"s":"2021年","i":199,"v":57},{"s":"2021年","i":202,"v":55},{"s":"2021年","i":206,"v":53},{"s":"2021年","i":208,"v":60},{"s":"2021年","i":210,"v":62.8},{"s":"2021年","i":216,"v":62},{"s":"2021年","i":225,"v":61},{"s":"2021年","i":230,"v":63},{"s":"2021年","i":232,"v":61},{"s":"2021年","i":247,"v":61},{"s":"2021年","i":250,"v":56},{"s":"2021年","i":254,"v":54.4},{"s":"2021年","i":257,"v":55},{"s":"2021年","i":262,"v":60.9},{"s":"2021年","i":274,"v":61},{"s":"2021年","i":276,"v":58},{"s":"2021年","i":280,"v":61},{"s":"2021年","i":284,"v":54.4},{"s":"2021年","i":302,"v":54.4},{"s":"2021年","i":305,"v":50.5},{"s":"2021年","i":326,"v":50.5},{"s":"2021年","i":329,"v":48},{"s":"2021年","i":334,"v":46.6},{"s":"2021年","i":338,"v":47},{"s":"2021年","i":343,"v":50},{"s":"2021年","i":360,"v":50.5},
{"s":"2022年","i":0,"v":51.5},{"s":"2022年","i":10,"v":51.5},{"s":"2022年","i":14,"v":50},{"s":"2022年","i":17,"v":48},{"s":"2022年","i":21,"v":53},{"s":"2022年","i":24,"v":58},{"s":"2022年","i":27,"v":57},{"s":"2022年","i":34,"v":57},{"s":"2022年","i":38,"v":58},{"s":"2022年","i":45,"v":59},{"s":"2022年","i":55,"v":59},{"s":"2022年","i":58,"v":59.5},{"s":"2022年","i":72,"v":59.5},{"s":"2022年","i":75,"v":60},{"s":"2022年","i":89,"v":60},{"s":"2022年","i":93,"v":61},{"s":"2022年","i":103,"v":61},{"s":"2022年","i":106,"v":58},{"s":"2022年","i":124,"v":58},{"s":"2022年","i":127,"v":57},{"s":"2022年","i":137,"v":57},{"s":"2022年","i":141,"v":56},{"s":"2022年","i":158,"v":56},{"s":"2022年","i":161,"v":57},{"s":"2022年","i":165,"v":57},{"s":"2022年","i":168,"v":56},{"s":"2022年","i":185,"v":56},{"s":"2022年","i":189,"v":55},{"s":"2022年","i":206,"v":55},{"s":"2022年","i":209,"v":53},{"s":"2022年","i":213,"v":55},{"s":"2022年","i":216,"v":52},{"s":"2022年","i":223,"v":52},{"s":"2022年","i":226,"v":53},{"s":"2022年","i":247,"v":53},{"s":"2022年","i":250,"v":60},{"s":"2022年","i":254,"v":60},{"s":"2022年","i":257,"v":61},{"s":"2022年","i":261,"v":55},{"s":"2022年","i":267,"v":55},{"s":"2022年","i":271,"v":52},{"s":"2022年","i":274,"v":52},{"s":"2022年","i":278,"v":53},{"s":"2022年","i":281,"v":58},{"s":"2022年","i":285,"v":62},{"s":"2022年","i":295,"v":62},{"s":"2022年","i":298,"v":63},{"s":"2022年","i":319,"v":63},{"s":"2022年","i":322,"v":64},{"s":"2022年","i":324,"v":64},{"s":"2022年","i":326,"v":71},{"s":"2022年","i":332,"v":71},{"s":"2022年","i":334,"v":75.7},{"s":"2022年","i":341,"v":75.7},{"s":"2022年","i":343,"v":71},{"s":"2022年","i":355,"v":71},{"s":"2022年","i":357,"v":57.5},{"s":"2022年","i":360,"v":58},
{"s":"2023年","i":0,"v":57.5},{"s":"2023年","i":3,"v":56},{"s":"2023年","i":7,"v":58},{"s":"2023年","i":26,"v":58},{"s":"2023年","i":27,"v":53.8},{"s":"2023年","i":36,"v":53.8},{"s":"2023年","i":38,"v":58.9},{"s":"2023年","i":58,"v":58.9},{"s":"2023年","i":72,"v":58.3},{"s":"2023年","i":79,"v":57},{"s":"2023年","i":82,"v":56},{"s":"2023年","i":93,"v":55.5},{"s":"2023年","i":94,"v":47.3},{"s":"2023年","i":96,"v":46},{"s":"2023年","i":113,"v":46},{"s":"2023年","i":117,"v":48},{"s":"2023年","i":130,"v":48.4},{"s":"2023年","i":148,"v":48.4},{"s":"2023年","i":161,"v":49},{"s":"2023年","i":172,"v":50},{"s":"2023年","i":173,"v":50.5},{"s":"2023年","i":178,"v":54},{"s":"2023年","i":183,"v":57},{"s":"2023年","i":194,"v":57},{"s":"2023年","i":197,"v":53.8},{"s":"2023年","i":255,"v":53.5},{"s":"2023年","i":259,"v":55},{"s":"2023年","i":273,"v":55},{"s":"2023年","i":276,"v":53.8},{"s":"2023年","i":283,"v":53.8},{"s":"2023年","i":285,"v":55},{"s":"2023年","i":307,"v":55},{"s":"2023年","i":311,"v":53.8},{"s":"2023年","i":348,"v":53.8},{"s":"2023年","i":352,"v":53},{"s":"2023年","i":358,"v":52},{"s":"2023年","i":360,"v":51.5},
{"s":"2024年","i":0,"v":51.8},{"s":"2024年","i":6,"v":51.8},{"s":"2024年","i":8,"v":53.4},{"s":"2024年","i":12,"v":53.4}
]
},
"vconcat": [
{
"title": {"text": "数据来源：Wind", "orient": "bottom", "anchor": "start", "frame": "bounds", "dx": 830, "offset": 2, "font": "Noto Sans CJK SC", "fontSize": 10, "fontWeight": "normal", "color": "#404040"},
"spacing": 21,
"center": true,
"resolve": {"scale": {"color": "independent", "x": "independent", "y": "independent"}, "legend": {"color": "independent"}},
"vconcat": [
{
  "width": 350, "height": 103,
  "title": {"text": "PX开工率处于同期高位", "subtitle": "开工率:PX:国内", "anchor": "middle", "frame": "group", "dx": -10, "font": "Noto Sans CJK SC", "fontSize": 19, "fontWeight": "normal", "color": "#000000", "subtitleFont": "Liberation Serif, Noto Sans CJK SC", "subtitleFontSize": 15, "subtitleColor": "#595959", "subtitlePadding": 11, "offset": -10},
  "data": {"name": "px"},
  "mark": {"type": "line", "strokeWidth": 2},
  "encoding": {
    "x": {"field": "i", "type": "quantitative", "scale": {"domain": [0, 360], "nice": false}, "axis": {"title": null, "values": [0,10,20,30,40,50,60,70,80,90,100,110,120,130,140,150,160,170,180,190,200,210,220,230,240,250,260,270,280,290,300,310,320,330,340,350], "labelExpr": "['1月2日','1月12日','1月22日','2月1日','2月11日','2月21日','3月3日','3月13日','3月23日','4月2日','4月12日','4月22日','5月3日','5月13日','5月23日','6月2日','6月12日','6月22日','7月2日','7月12日','7月22日','8月1日','8月11日','8月21日','8月31日','9月10日','9月20日','9月30日','10月16日','10月26日','11月5日','11月15日','11月25日','12月5日','12月15日','12月25日'][datum.value/10]"}},
    "y": {"field": "v", "type": "quantitative", "scale": {"domain": [50, 95], "nice": false, "zero": false}, "axis": {"title": "%", "values": [50,55,60,65,70,75,80,85,90,95]}},
    "color": {"field": "s", "type": "nominal", "scale": {"domain": ["2017年","2018年","2019年","2020年","2021年","2022年","2023年","2024年"], "range": ["#4472C4","#ED7D31","#A5A5A5","#FFC000","#5B9BD5","#70AD47","#C00000","#000000"]}, "legend": {"legendX": 69, "legendY": 153}}
  }
},
{
  "hconcat": [
    {
      "width": 350, "height": 103,
      "title": {"text": "开工率:PTA:国内", "anchor": "middle", "frame": "group", "dx": -6, "font": "Liberation Serif, Noto Sans CJK SC", "fontSize": 15, "fontWeight": "normal", "color": "#595959", "offset": -13},
      "data": {"name": "pta"},
      "mark": {"type": "line", "strokeWidth": 2},
      "encoding": {
        "x": {"field": "i", "type": "quantitative", "scale": {"domain": [0, 360], "nice": false}, "axis": {"title": null, "values": [0,10,20,30,40,50,60,70,80,90,100,110,120,130,140,150,160,170,180,190,200,210,220,230,240,250,260,270,280,290,300,310,320,330,340,350], "labelExpr": "['1月2日','1月12日','1月22日','2月1日','2月11日','2月21日','3月3日','3月13日','3月23日','4月2日','4月12日','4月22日','5月3日','5月13日','5月23日','6月2日','6月12日','6月22日','7月2日','7月12日','7月22日','8月1日','8月11日','8月21日','8月31日','9月10日','9月20日','9月30日','10月16日','10月26日','11月5日','11月15日','11月25日','12月5日','12月15日','12月25日'][datum.value/10]"}},
        "y": {"field": "v", "type": "quantitative", "scale": {"domain": [50, 95], "nice": false, "zero": false}, "axis": {"title": "%", "values": [50,55,60,65,70,75,80,85,90,95], "titleX": -16}},
        "color": {"field": "s", "type": "nominal", "scale": {"domain": ["2017年","2018年","2019年","2020年","2021年","2022年","2023年","2024年"], "range": ["#4472C4","#ED7D31","#A5A5A5","#FFC000","#5B9BD5","#70AD47","#C00000","#000000"]}, "legend": {"legendX": 73, "legendY": 155}}
      }
    },
    {
      "width": 350, "height": 103,
      "title": {"text": "开工率:聚酯产业链:乙二醇(综合)", "anchor": "middle", "frame": "group", "dx": -7, "font": "Liberation Serif, Noto Sans CJK SC", "fontSize": 15.5, "fontWeight": "normal", "color": "#595959", "offset": -13},
      "data": {"name": "meg"},
      "mark": {"type": "line", "strokeWidth": 2},
      "encoding": {
        "x": {"field": "i", "type": "quantitative", "scale": {"domain": [0, 360], "nice": false}, "axis": {"title": null, "values": [0,10,20,30,40,50,60,70,80,90,100,110,120,130,140,150,160,170,180,190,200,210,220,230,240,250,260,270,280,290,300,310,320,330,340,350], "labelExpr": "['1月2日','1月12日','1月22日','2月1日','2月11日','2月21日','3月3日','3月13日','3月23日','4月2日','4月13日','4月23日','5月4日','5月14日','5月24日','6月3日','6月13日','6月23日','7月3日','7月13日','7月23日','8月2日','8月12日','8月22日','9月1日','9月11日','9月21日','10月7日','10月17日','10月27日','11月6日','11月16日','11月26日','12月6日','12月16日','12月26日'][datum.value/10]"}},
        "y": {"field": "v", "type": "quantitative", "scale": {"domain": [45, 85], "nice": false, "zero": false}, "axis": {"title": "%", "values": [45,50,55,60,65,70,75,80,85], "titleX": -16}},
        "color": {"field": "s", "type": "nominal", "scale": {"domain": ["2018年","2019年","2020年","2021年","2022年","2023年","2024年"], "range": ["#4472C4","#ED7D31","#A5A5A5","#FFC000","#5B9BD5","#C00000","#000000"]}, "legend": {"legendX": 71, "legendY": 156}}
      }
    }
  ],
  "spacing": 92,
  "resolve": {"scale": {"color": "independent", "x": "independent", "y": "independent"}, "legend": {"color": "independent"}}
}
]
}
]
}
